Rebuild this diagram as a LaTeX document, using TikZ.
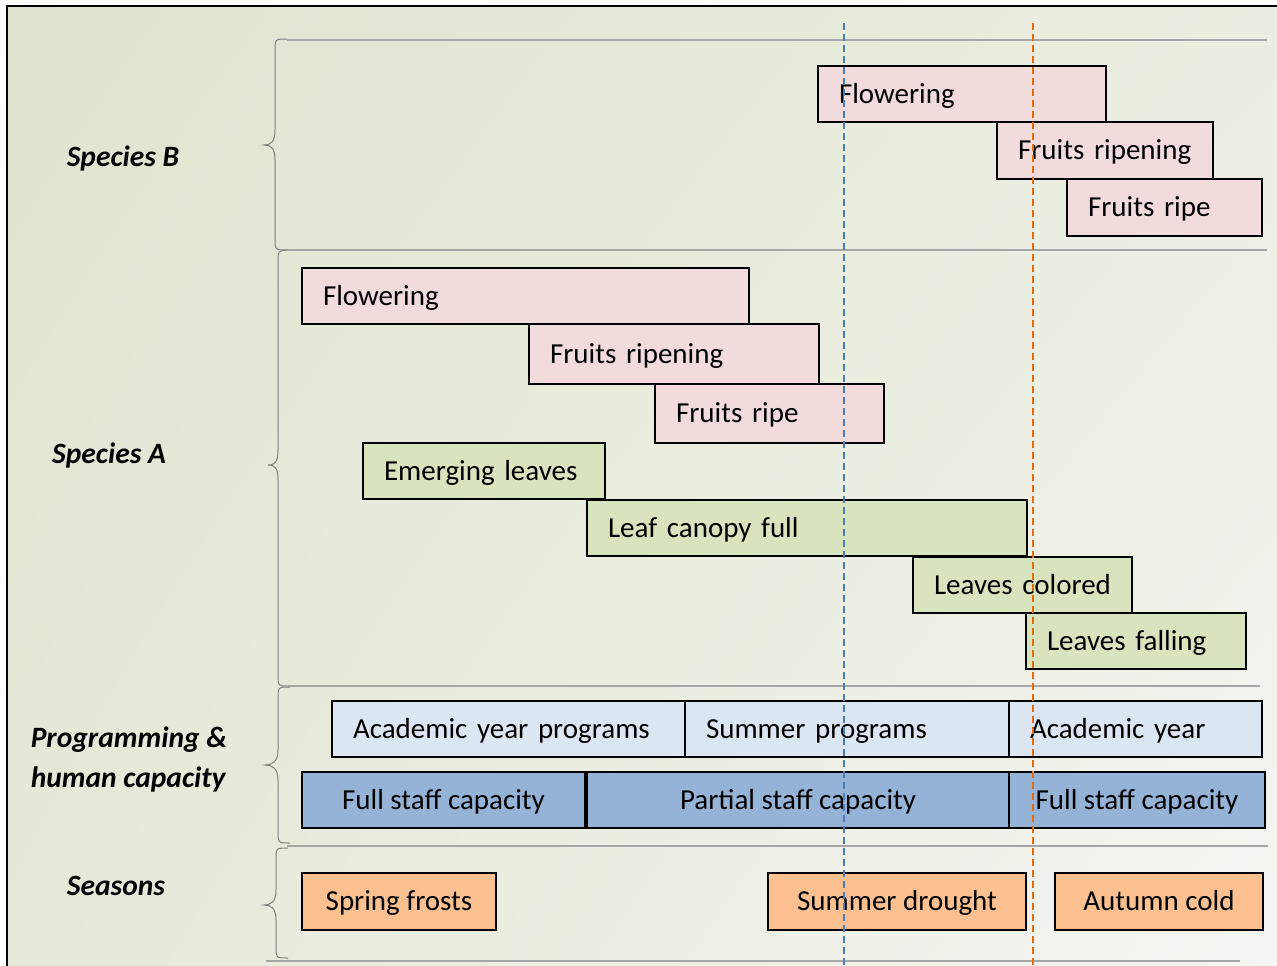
\documentclass[tikz,border=0pt]{standalone}
\usepackage{fontspec}
\setmainfont{Carlito}
\usetikzlibrary{shadings}
\definecolor{pinkf}{HTML}{F2DCDB}
\definecolor{greenf}{HTML}{D7E4BD}
\definecolor{lbluef}{HTML}{DCE6F2}
\definecolor{bluef}{HTML}{95B3D7}
\definecolor{orangef}{HTML}{FAC090}
\definecolor{bgUL}{HTML}{DFE4CF}
\definecolor{bgUR}{HTML}{EBEEE2}
\definecolor{bgLL}{HTML}{E5E9D8}
\definecolor{bgLR}{HTML}{F5F5F1}
\definecolor{sepc}{HTML}{A6A6A6}
\definecolor{bracec}{HTML}{808080}
\definecolor{dashblue}{HTML}{4A7EBB}
\definecolor{dashorange}{HTML}{E46C0A}
\tikzset{
  bar/.style={draw=black, line width=2pt, fill=#1, anchor=north west,
    inner xsep=21pt, inner ysep=0pt, font=\fontsize{29}{34}\selectfont,
    text height=22pt, text depth=4pt, align=left},
  cbar/.style={bar=#1, align=center},
  lab/.style={font=\fontsize{29.5}{40}\selectfont\bfseries\itshape, align=left, inner sep=0pt},
  sepline/.style={draw=sepc, line width=1.4pt},
  bracel/.style={draw=bracec, line width=1pt},
  vdash/.style={line width=1.8pt, dash pattern=on 7pt off 4pt}
}
\begin{document}
\begin{tikzpicture}[x=1pt,y=-1pt]
\useasboundingbox (0,0) rectangle (1277,966);
\shade[upper left=bgUL, upper right=bgUR, lower left=bgLL, lower right=bgLR] (7,6) rectangle (1277,966);
\draw[line width=2pt] (7,966) -- (7,6) -- (1277,6);

% separator lines
\draw[sepline] (287,40) -- (1267,40);
\draw[sepline] (287,250) -- (1267,250);
\draw[sepline] (288,686) -- (1260,686);
\draw[sepline] (287,846) -- (1268,846);
\draw[sepline] (266,961) -- (1240,961);

% braces
\draw[bracel] (287,39) .. controls (275,39) .. (275,51) -- (275,130) .. controls (275,142) and (271,145) .. (264,145)
  .. controls (271,145) and (275,148) .. (275,160) -- (275,238) .. controls (275,250) .. (287,250);
\draw[bracel] (287,250) .. controls (278,251) .. (278,262) -- (278,450) .. controls (278,462) and (275,465) .. (268,465)
  .. controls (275,465) and (278,468) .. (278,480) -- (278,674) .. controls (278,686) .. (288,686);
\draw[bracel] (290,687) .. controls (278,687) .. (278,699) -- (278,750) .. controls (278,762) and (272,765) .. (265,765)
  .. controls (272,765) and (278,768) .. (278,780) -- (278,831) .. controls (278,843) .. (290,843);
\draw[bracel] (288,848) .. controls (276,848) .. (276,860) -- (276,890) .. controls (276,902) and (271,905) .. (264,905)
  .. controls (271,905) and (276,908) .. (276,920) -- (276,947) .. controls (276,958) .. (288,958);

% Species B
\node[bar=pinkf, minimum height=56pt, text width=246pt] (bflow) at (817,65) {Flowering};
\node[bar=pinkf, minimum height=57pt, text width=174pt] (bripening) at (996,121) {Fruits ripening};
\node[bar=pinkf, minimum height=57pt, text width=153pt] (bripe) at (1066,178) {Fruits ripe};

% Species A
\node[bar=pinkf, minimum height=56pt, text width=405pt] (aflow) at (301,267) {Flowering};
\node[bar=pinkf, minimum height=60pt, text width=248pt] (aripening) at (528,323) {Fruits ripening};
\node[bar=pinkf, minimum height=59pt, text width=187pt] (aripe) at (654,383) {Fruits ripe};
\node[bar=greenf, minimum height=56pt, text width=200pt] (emerg) at (362,442) {Emerging leaves};
\node[bar=greenf, minimum height=56pt, text width=398pt] (canopy) at (586,499) {Leaf canopy full};
\node[bar=greenf, minimum height=56pt, text width=177pt] (colored) at (912,556) {Leaves colored};
\node[bar=greenf, minimum height=56pt, text width=178pt] (falling) at (1025,612) {Leaves falling};

% Programming
\node[bar=lbluef, minimum height=56pt, text width=311pt] (acprog) at (331,700) {Academic year programs};
\node[bar=lbluef, minimum height=56pt, text width=282pt] (sumprog) at (684,700) {Summer programs};
\node[bar=lbluef, minimum height=56pt, text width=211pt] (acyear) at (1008,700) {Academic year};
\node[cbar=bluef, minimum height=56pt, minimum width=283pt] (full1) at (301,771) {Full staff capacity};
\node[cbar=bluef, minimum height=56pt, minimum width=422pt] (partial) at (586,771) {Partial staff capacity};
\node[cbar=bluef, minimum height=56pt, minimum width=256pt] (full2) at (1008,771) {Full staff capacity};

% Seasons
\node[cbar=orangef, minimum height=57pt, minimum width=194pt] (spring) at (301,872) {Spring frosts};
\node[cbar=orangef, minimum height=57pt, minimum width=258pt] (drought) at (767,872) {Summer drought};
\node[cbar=orangef, minimum height=57pt, minimum width=208pt] (autumn) at (1054,872) {Autumn cold};

% dashed lines
\coordinate (bt) at (844,23);
\coordinate (bb) at (844,966);
\coordinate (ot) at (1033,23);
\coordinate (ob) at (1033,966);
\draw[vdash, dashblue] (bt) -- (bb);
\draw[vdash, dashorange] (ot) -- (ob);

% left labels
\node[lab] (lb) at (123,158) {Species B};
\node[lab] (la) at (109,455) {Species A};
\node[lab] (lp) at (129,759) {Programming \&\\human capacity};
\node[lab] (ls) at (116,886) {Seasons};
\end{tikzpicture}
\end{document}
